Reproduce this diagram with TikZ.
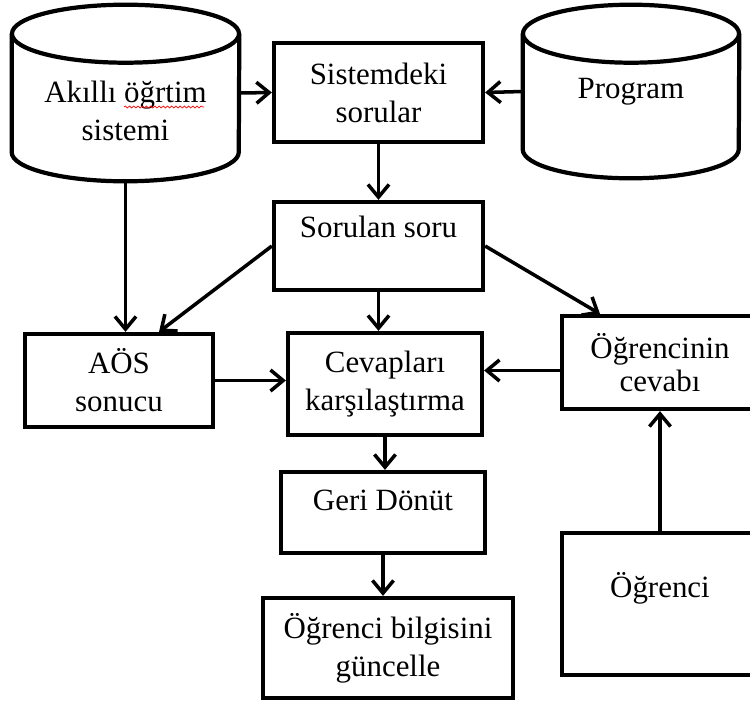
\documentclass[tikz,border=0pt]{standalone}
\usepackage{fontspec}
\setmainfont{Liberation Serif}
\usetikzlibrary{arrows.meta,decorations.pathmorphing}

\tikzset{
  txt/.style={align=center,font=\fontsize{22}{27}\selectfont},
  box/.style={txt,draw,line width=3pt},
  line/.style={line width=3pt},
  flow/.style={line width=2.5pt,-{Straight Barb[length=9pt,width=15pt]}},
  spellwave/.style={red,line width=0.5pt,decorate,decoration={snake,amplitude=0.7pt,segment length=3pt}},
}

\begin{document}
\begin{tikzpicture}[x=0.025cm,y=-0.025cm]
        \useasboundingbox (0,0) rectangle (750,704);

        % data stores
        \node[txt,minimum width=5.675cm,minimum height=2.95cm] (ait) at (125.5,93)
            {\rule{0pt}{41pt}Akıllı öğrtim\\sistemi};
        \draw[line] (ait.north west) -- (ait.south west)
            arc[start angle=180,end angle=360,x radius=2.8375cm,y radius=0.725cm] -- (ait.north east);
        \draw[line] (ait.north) ellipse[x radius=2.8375cm,y radius=0.725cm];
        \coordinate (aitb) at ([yshift=-0.725cm]ait.south);
        \draw[spellwave] (124,107) -- (204,107);

        \node[txt,minimum width=5.4cm,minimum height=2.875cm] (prg) at (631,91.5) {Program};
        \draw[line] (prg.north west) -- (prg.south west)
            arc[start angle=180,end angle=360,x radius=2.7cm,y radius=0.725cm] -- (prg.north east);
        \draw[line] (prg.north) ellipse[x radius=2.7cm,y radius=0.725cm];

        % boxes
        \node[box,minimum width=5.225cm,minimum height=2.475cm] (sis) at (378.5,92.5) {Sistemdeki\\sorular};
        \node[box,minimum width=5.225cm,minimum height=2.2cm] (sor) at (378.5,246) {Sorulan soru\\ \mbox{}};
        \node[box,minimum width=4.7cm,minimum height=2.325cm] (aos) at (119,380.5) {AÖS\\sonucu};
        \node[box,minimum width=4.85cm,minimum height=2.55cm] (cev) at (385,384) {Cevapları\\karşılaştırma};
        \node[box,minimum width=4.9cm,minimum height=2.325cm] (ocv) at (660,362.5) {Öğrencinin\\[-3pt]cevabı};
        \node[box,minimum width=4.9cm,minimum height=3.55cm] (ogr) at (660,604) {Öğrenci\\ \mbox{}};
        \node[box,minimum width=5.1cm,minimum height=2.025cm] (ger) at (383,512.5) {Geri Dönüt\\[-10pt]\mbox{}};
        \node[box,minimum width=6.25cm,minimum height=2.5cm] (gun) at (388,648) {Öğrenci bilgisini\\güncelle};

        % arrows
        \draw[flow] (ait.east) -- (sis.west);
        \draw[flow] (prg.west) -- (sis.east);
        \draw[flow] (sis.south) -- (sor.north);
        \draw[flow] (aitb) -- (aitb |- aos.north);
        \draw[flow] (sor.west) -- ([xshift=1cm]aos.north);
        \draw[flow] (sor.south) -- (sor.south |- cev.north);
        \draw[flow] (sor.east) -- ([xshift=-1.5cm]ocv.north);
        \draw[flow] (aos.east) -- (aos.east -| cev.west);
        \draw[flow] ([yshift=-0.2cm]ocv.west) -- ([yshift=-0.2cm]ocv.west -| cev.east);
        \draw[flow] (ogr.north) -- (ocv.south);
        \draw[flow] (cev.south) -- (cev.south |- ger.north);
        \draw[flow] (ger.south) -- (ger.south |- gun.north);
    \end{tikzpicture}
\end{document}
